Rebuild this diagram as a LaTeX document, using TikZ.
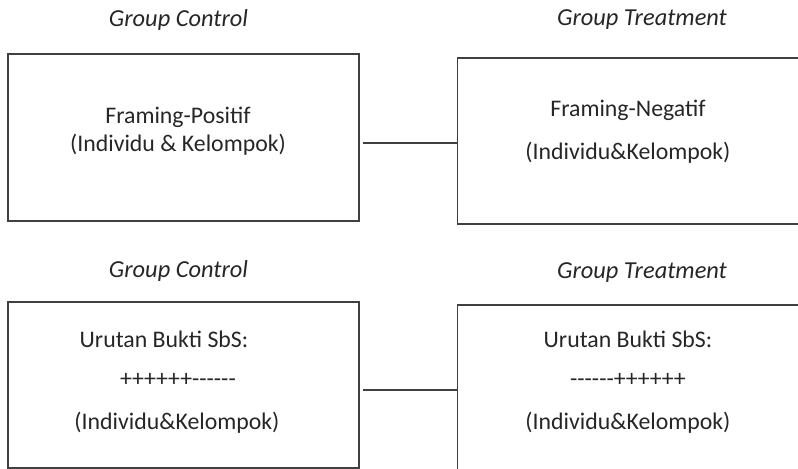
\documentclass[tikz,border=0pt]{standalone}
\usepackage{fontspec}
\setmainfont{Carlito}
\usepackage{tikz}

\begin{document}
\begin{tikzpicture}[
        x=0.5pt, y=-0.5pt,
        every node/.append style={font=\fontsize{11.9}{14}\selectfont,text=black!85}
    ]
    \tikzstyle{box}=[draw=black!75,line width=0.65pt,shape=rectangle,inner sep=0pt];
    \tikzstyle{grp}=[font=\fontsize{12.2}{14}\selectfont\itshape];
    \tikzstyle{link}=[draw=black!75,line width=0.65pt];
    \clip (0,0) rectangle (798,469);
    % top
    \node[grp] (gc1) at (178.5,20) {Group Control};
    \node[grp] (gt1) at (642,20) {Group Treatment};
    \node[box,minimum width=175.5pt,minimum height=83.5pt] (tl) at (183.5,137.5) {};
    \node[box,minimum width=170.5pt,minimum height=83pt] (tr) at (628,141) {};
    \node (tl1) at (178,117) {Framing-Positif};
    \node (tl2) at (178,145) {(Individu \& Kelompok)};
    \node (tr1) at (628,110) {Framing-Negatif};
    \node (tr2) at (628,153) {(Individu\&Kelompok)};
    \coordinate (y1) at (0,143);
    \draw[link] (tl.east |- y1) ++(3,0) -- (tr.west |- y1);
    % bottom
    \node[grp] (gc2) at (178.5,271) {Group Control};
    \node[grp] (gt2) at (642,273) {Group Treatment};
    \node[box,minimum width=175.5pt,minimum height=83pt] (bl) at (183.5,385) {};
    \node[box,minimum width=170.5pt,minimum height=83pt] (br) at (628,388) {};
    \node (bl1) at (164,339) {Urutan Bukti SbS:};
    \node (bl2) at (178,380) {++++++-{}-{}-{}-{}-{}-};
    \node (bl3) at (177,423) {(Individu\&Kelompok)};
    \node (br1) at (628,339) {Urutan Bukti SbS:};
    \node (br2) at (628,380) {-{}-{}-{}-{}-{}-++++++};
    \node (br3) at (628,423) {(Individu\&Kelompok)};
    \coordinate (y2) at (0,390);
    \draw[link] (bl.east |- y2) ++(3,0) -- (br.west |- y2);
\end{tikzpicture}
\end{document}
